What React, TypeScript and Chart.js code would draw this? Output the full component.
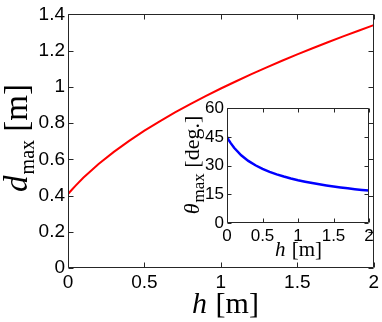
import React, { useEffect, useRef } from "react";
import { Chart, registerables } from "chart.js";

Chart.register(...registerables);

// h [m]
const H = [0, 0.025, 0.05, 0.1, 0.2, 0.3, 0.4, 0.5, 0.6, 0.7, 0.8, 0.9, 1.0, 1.1, 1.2, 1.3, 1.4, 1.5, 1.6, 1.7, 1.8, 1.9, 2.0];
// d_max [m]
const D_MAX = [0.408, 0.432, 0.455, 0.498, 0.574, 0.641, 0.702, 0.758, 0.81, 0.859, 0.905, 0.949, 0.991, 1.031, 1.07, 1.108, 1.144, 1.179, 1.213, 1.246, 1.279, 1.31, 1.341];
// theta_max [deg.]
const THETA_MAX = [45, 43.34, 41.87, 39.32, 35.4, 32.47, 30.17, 28.3, 26.74, 25.41, 24.27, 23.26, 22.38, 21.59, 20.87, 20.22, 19.63, 19.09, 18.59, 18.13, 17.7, 17.3, 16.92];

const MAIN_X_TICKS = [0, 0.5, 1, 1.5, 2];
const MAIN_Y_TICKS = [0, 0.2, 0.4, 0.6, 0.8, 1, 1.2, 1.4];
const INSET_X_TICKS = [0, 0.5, 1, 1.5, 2];
const INSET_Y_TICKS = [0, 15, 30, 45, 60];

const MAIN_X_TITLE = { italic: "h", rest: " [m]" };
const MAIN_Y_TITLE = { italic: "d", sub: "max", rest: " [m]" };
const INSET_X_TITLE = { italic: "h", rest: " [m]" };
const INSET_Y_TITLE = { italic: "\u03b8", sub: "max", rest: " [deg.]" };

const SERIF = "'Liberation Serif', 'DejaVu Serif', serif";
const SANS = "'Liberation Sans', Arial, sans-serif";

type Title = { italic: string; sub?: string; rest: string };

function drawTitle(ctx: CanvasRenderingContext2D, t: Title, cx: number, cy: number, size: number, subSize: number, rotate: boolean) {
  ctx.save();
  ctx.translate(cx, cy);
  if (rotate) ctx.rotate(-Math.PI / 2);
  ctx.fillStyle = "#000";
  ctx.textBaseline = "alphabetic";
  ctx.textAlign = "left";
  const fIt = `italic ${size}px ${SERIF}`;
  const fSub = `${subSize}px ${SERIF}`;
  const fRest = `${size}px ${SERIF}`;
  ctx.font = fIt;
  const w1 = ctx.measureText(t.italic).width;
  let w2 = 0;
  if (t.sub) {
    ctx.font = fSub;
    w2 = ctx.measureText(t.sub).width + 1;
  }
  ctx.font = fRest;
  const w3 = ctx.measureText(t.rest).width;
  let x = -(w1 + w2 + w3) / 2;
  ctx.font = fIt;
  ctx.fillText(t.italic, x, 0);
  x += w1 + 1;
  if (t.sub) {
    ctx.font = fSub;
    ctx.fillText(t.sub, x, size * 0.22);
    x += w2 - 1;
  }
  ctx.font = fRest;
  ctx.fillText(t.rest, x, 0);
  ctx.restore();
}

function framePlugin(tickLen: number, whiteBg: boolean, titles: (ctx: CanvasRenderingContext2D) => void) {
  return {
    id: "frame",
    beforeDraw(chart: any) {
      if (!whiteBg) return;
      const { ctx, chartArea } = chart;
      ctx.save();
      ctx.fillStyle = "#fff";
      ctx.fillRect(chartArea.left, chartArea.top, chartArea.right - chartArea.left, chartArea.bottom - chartArea.top);
      ctx.restore();
    },
    afterDraw(chart: any) {
      const { ctx, chartArea } = chart;
      const xs = chart.scales.x;
      const ys = chart.scales.y;
      const l = Math.round(chartArea.left) + 0.5;
      const r = Math.round(chartArea.right) - 0.5;
      const t = Math.round(chartArea.top) + 0.5;
      const b = Math.round(chartArea.bottom) - 0.5;
      ctx.save();
      ctx.strokeStyle = "#262626";
      ctx.lineWidth = 1;
      ctx.beginPath();
      ctx.rect(l, t, r - l, b - t);
      xs.ticks.forEach((tk: any) => {
        const px = Math.round(xs.getPixelForValue(tk.value)) + 0.5;
        ctx.moveTo(px, b);
        ctx.lineTo(px, b - tickLen);
        ctx.moveTo(px, t);
        ctx.lineTo(px, t + tickLen);
      });
      ys.ticks.forEach((tk: any) => {
        const py = Math.round(ys.getPixelForValue(tk.value)) + 0.5;
        ctx.moveTo(l, py);
        ctx.lineTo(l + tickLen, py);
        ctx.moveTo(r, py);
        ctx.lineTo(r - tickLen, py);
      });
      ctx.stroke();
      ctx.restore();
      titles(ctx);
    },
  };
}

function makeScales(xTicks: number[], yTicks: number[], xMax: number, yMax: number, yWidth: number, xHeight: number, fontSize: number) {
  return {
    x: {
      type: "linear",
      min: 0,
      max: xMax,
      grid: { display: false, drawTicks: false },
      border: { display: false },
      afterBuildTicks: (s: any) => {
        s.ticks = xTicks.map((v) => ({ value: v }));
      },
      afterFit: (s: any) => {
        s.height = xHeight;
      },
      ticks: {
        padding: 3,
        maxRotation: 0,
        autoSkip: false,
        color: "#000",
        font: { family: SANS, size: fontSize },
        callback: (v: any) => String(v),
      },
    },
    y: {
      type: "linear",
      min: 0,
      max: yMax,
      grid: { display: false, drawTicks: false },
      border: { display: false },
      afterBuildTicks: (s: any) => {
        s.ticks = yTicks.map((v) => ({ value: v }));
      },
      afterFit: (s: any) => {
        s.width = yWidth;
      },
      ticks: {
        padding: 3,
        autoSkip: false,
        color: "#000",
        font: { family: SANS, size: fontSize },
        callback: (v: any) => String(v),
      },
    },
  };
}

export default function App() {
  const mainRef = useRef<HTMLCanvasElement>(null);
  const insetRef = useRef<HTMLCanvasElement>(null);

  useEffect(() => {
    const main = new Chart(mainRef.current!, {
      type: "line",
      data: {
        datasets: [
          {
            data: H.map((h, i) => ({ x: h, y: D_MAX[i] })),
            borderColor: "#ff0000",
            borderWidth: 2,
            pointRadius: 0,
            fill: false,
            tension: 0,
          },
        ],
      },
      options: {
        responsive: false,
        animation: false,
        layout: { padding: { top: 9, right: 6, left: 0, bottom: 0 } },
        plugins: { legend: { display: false }, tooltip: { enabled: false } },
        scales: makeScales(MAIN_X_TICKS, MAIN_Y_TICKS, 2, 1.4, 68, 54, 19) as any,
      },
      plugins: [
        framePlugin(5, false, (ctx) => {
          drawTitle(ctx, MAIN_X_TITLE, 225, 313, 30, 19, false);
          drawTitle(ctx, MAIN_Y_TITLE, 27, 138, 33, 20, true);
        }),
      ],
    });

    const inset = new Chart(insetRef.current!, {
      type: "line",
      data: {
        datasets: [
          {
            data: H.map((h, i) => ({ x: h, y: THETA_MAX[i] })),
            borderColor: "#0000ff",
            borderWidth: 2.5,
            pointRadius: 0,
            fill: false,
            tension: 0,
          },
        ],
      },
      options: {
        responsive: false,
        animation: false,
        layout: { padding: { top: 11, right: 13, left: 0, bottom: 0 } },
        plugins: { legend: { display: false }, tooltip: { enabled: false } },
        scales: makeScales(INSET_X_TICKS, INSET_Y_TICKS, 2, 60, 57, 42, 17) as any,
      },
      plugins: [
        framePlugin(4, true, (ctx) => {
          drawTitle(ctx, INSET_X_TITLE, 128, 161, 21, 15, false);
          drawTitle(ctx, INSET_Y_TITLE, 29, 70, 22, 17, true);
        }),
      ],
    });

    return () => {
      main.destroy();
      inset.destroy();
    };
  }, []);

  return (
    <div style={{ position: "fixed", left: 0, top: 0, width: 382, height: 322, background: "#fff" }}>
      <canvas ref={mainRef} width={382} height={322} style={{ position: "absolute", left: 0, top: 0 }} />
      <canvas ref={insetRef} width={212} height={170} style={{ position: "absolute", left: 170, top: 95 }} />
    </div>
  );
}
